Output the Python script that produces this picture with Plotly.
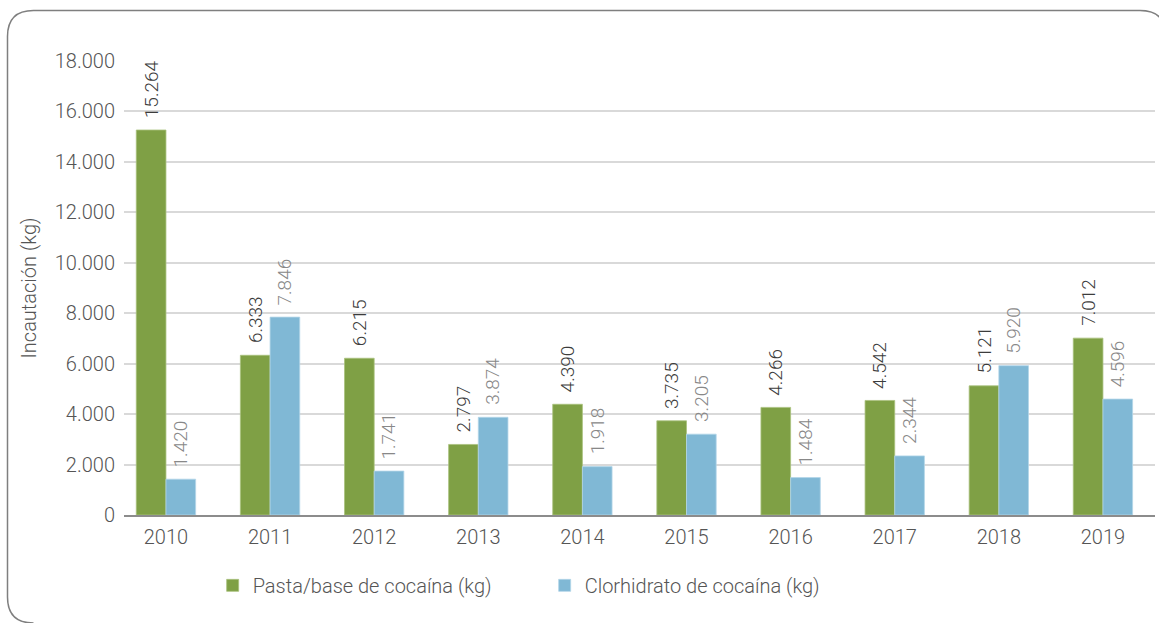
import plotly.graph_objects as go

years = ["2010", "2011", "2012", "2013", "2014", "2015", "2016", "2017", "2018", "2019"]
pasta_base = [15264, 6333, 6215, 2797, 4390, 3735, 4266, 4542, 5121, 7012]
clorhidrato = [1420, 7846, 1741, 3874, 1918, 3205, 1484, 2344, 5920, 4596]
y_ticks = [0, 2000, 4000, 6000, 8000, 10000, 12000, 14000, 16000, 18000]

W, H = 1159, 623
L, R, T, B = 124, 4, 61, 108
PW = W - L - R
PH = H - T - B

GREEN = "#7fa045"
BLUE = "#80b8d5"
FONT = "Roboto"
FW = 300
FS = 20
TXT = "#555555"

xs = list(range(len(years)))

def fmt(v):
    return f"{v:,}".replace(",", ".")

fig = go.Figure()
fig.add_trace(go.Bar(x=xs, y=pasta_base, name="Pasta/base de cocaína (kg)",
                     marker=dict(color=GREEN, line=dict(color="#a9c27e", width=0.8))))
fig.add_trace(go.Bar(x=xs, y=clorhidrato, name="Clorhidrato de cocaína (kg)",
                     marker=dict(color=BLUE, line=dict(color="#b3d6e8", width=0.8))))

annotations = []
for i, (a, b) in enumerate(zip(pasta_base, clorhidrato)):
    annotations.append(dict(x=i - 0.142, y=a, text=fmt(a), textangle=-90, showarrow=False,
                            xanchor="center", yanchor="bottom", yshift=10,
                            font=dict(family=FONT, size=19, weight=FW, color="#3c3c3c")))
    annotations.append(dict(x=i + 0.142, y=b, text=fmt(b), textangle=-90, showarrow=False,
                            xanchor="center", yanchor="bottom", yshift=10,
                            font=dict(family=FONT, size=19, weight=FW, color="#888888")))

def px_x(p):
    return (p - L) / PW

def px_y(p):
    return (H - B - p) / PH

r = 26
x0, x1, y0, y1 = 7.5, 1166, 10.5, 623
path = (f"M {px_x(x0 + r)} {px_y(y1)} "
        f"Q {px_x(x0)} {px_y(y1)} {px_x(x0)} {px_y(y1 - r)} "
        f"L {px_x(x0)} {px_y(y0 + r)} Q {px_x(x0)} {px_y(y0)} {px_x(x0 + r)} {px_y(y0)} "
        f"L {px_x(x1 - r)} {px_y(y0)} Q {px_x(x1)} {px_y(y0)} {px_x(x1)} {px_y(y0 + r)}")

tickfont = dict(family=FONT, size=FS, weight=FW, color=TXT)

fig.update_layout(
    width=W, height=H,
    margin=dict(l=L, r=R, t=T, b=B, autoexpand=False),
    paper_bgcolor="white", plot_bgcolor="white",
    separators=",.",
    barmode="group", bargap=0.43, bargroupgap=0,
    font=dict(family=FONT, size=FS, weight=FW, color=TXT),
    xaxis=dict(range=[-0.403, 9.5], tickvals=xs, ticktext=years, showgrid=False,
               showline=True, linecolor="#8c8c8c", linewidth=1.5, ticks="",
               tickfont=tickfont, ticklabelstandoff=3, zeroline=False),
    yaxis=dict(range=[0, 18000], tickvals=y_ticks, tickformat=",d", showgrid=True,
               gridcolor="#d9d9d9", gridwidth=1.5, zeroline=False, showline=False,
               ticks="", tickfont=tickfont, ticklabelstandoff=8,
               title=dict(text="Incautación (kg)", standoff=12, font=tickfont)),
    legend=dict(orientation="h", x=0.086, xanchor="left", y=-0.155, yanchor="middle",
                font=tickfont, itemclick=False,
                entrywidth=287, entrywidthmode="pixels", traceorder="normal"),
    annotations=annotations,
    shapes=[dict(type="path", path=path, xref="paper", yref="paper",
                 fillcolor="rgba(0,0,0,0)",
                 line=dict(color="#7f7f7f", width=1.5), layer="above")],
)

fig.write_html("out.html", config={"displayModeBar": False},
               post_script="document.body.style.margin='0';document.body.style.overflow='hidden';")
